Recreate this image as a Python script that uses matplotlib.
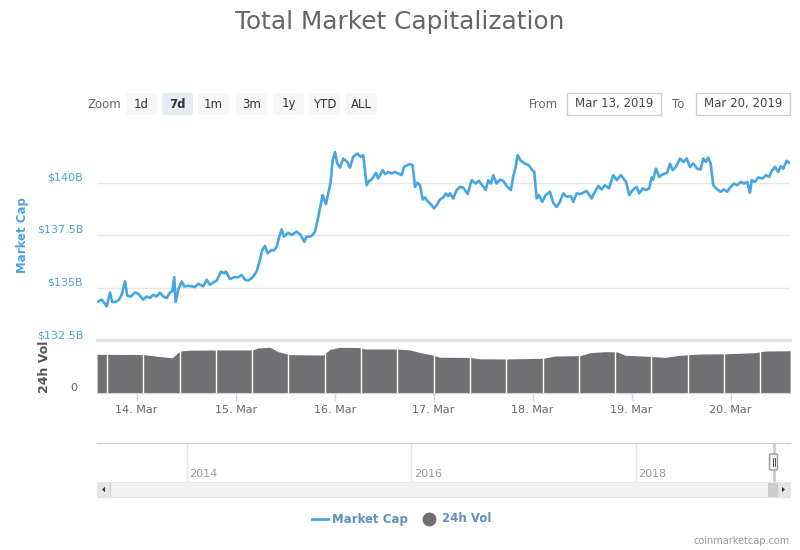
import numpy as np
import pandas as pd
import matplotlib
matplotlib.use("Agg")
import matplotlib.pyplot as plt
import matplotlib.dates as mdates
from matplotlib.patches import Rectangle, FancyBboxPatch, Polygon
from matplotlib.lines import Line2D

# hours since 2019-03-13 00:00 and total market cap in $B
cap_hours = [14.69, 15.52, 16.15, 16.73, 17.53, 18.09, 18.91, 19.71, 20.36, 21.16,
             21.72, 22.55, 23.59, 24.39, 25.60, 26.42, 27.22, 28.02, 28.85, 29.65,
             30.45, 31.27, 32.07, 32.63, 33.11, 33.45, 34.08, 34.91, 35.54, 36.51,
             37.48, 38.13, 38.93, 40.14, 40.97, 41.77, 42.57, 43.39, 44.43, 45.23,
             45.65, 46.62, 47.66, 48.63, 49.45, 50.25, 51.05, 51.88, 52.51, 53.09,
             53.89, 54.45, 55.10, 55.75, 56.72, 57.28, 57.94, 58.57, 59.15, 59.71,
             60.75, 61.57, 62.78, 63.75, 64.63, 65.21, 66.01, 66.66, 67.22, 67.87,
             68.43, 69.09, 69.47, 69.89, 70.44, 71.03, 71.51, 72.07, 72.63, 73.28,
             74.08, 75.05, 75.70, 76.50, 77.47, 78.30, 78.93, 79.75, 80.38, 80.96,
             82.01, 82.56, 83.63, 84.19, 84.99, 85.81, 86.61, 87.41, 88.24, 88.79,
             89.59, 90.25, 90.90, 91.46, 92.02, 92.67, 93.33, 93.88, 94.44, 95.27,
             96.07, 96.72, 97.52, 98.32, 98.97, 99.53, 99.94, 100.74, 101.57, 102.37,
             103.17, 104.23, 105.20, 106.17, 106.97, 107.77, 108.60, 109.23, 109.88, 110.44,
             111.26, 112.06, 112.86, 113.69, 114.73, 115.29, 115.87, 116.35, 117.15, 118.12,
             119.09, 119.89, 120.38, 120.96, 121.52, 122.32, 123.14, 124.18, 124.98, 125.81,
             126.61, 127.41, 128.23, 129.27, 129.83, 130.66, 131.46, 132.26, 133.08, 134.29,
             135.09, 135.89, 136.72, 137.52, 138.49, 139.53, 140.35, 141.39, 142.61, 143.41,
             144.23, 145.20, 145.83, 146.65, 147.45, 148.25, 148.84, 149.22, 149.88, 150.68,
             151.65, 152.62, 153.27, 153.93, 154.73, 155.70, 156.50, 157.32, 158.12, 158.92,
             159.89, 160.71, 161.34, 162.00, 162.56, 163.14, 163.77, 164.74, 165.56, 166.36,
             167.16, 167.99, 168.79, 169.59, 170.41, 171.21, 172.01, 172.67, 173.08, 173.88,
             174.68, 175.74, 176.54, 177.34, 177.92, 178.72, 179.53, 180.11, 180.74, 181.56,
             182.19]
cap_values = [134.34, 134.42, 134.26, 134.10, 134.76, 134.31, 134.31, 134.42, 134.65, 135.29,
              134.61, 134.57, 134.76, 134.70, 134.42, 134.57, 134.50, 134.65, 134.57, 134.76,
              134.57, 134.50, 134.76, 134.81, 135.49, 134.31, 134.89, 135.29, 135.05, 135.08,
              135.05, 135.02, 135.18, 135.05, 135.37, 135.13, 135.24, 135.33, 135.76, 135.68,
              135.76, 135.40, 135.49, 135.49, 135.60, 135.37, 135.33, 135.45, 135.60, 135.76,
              136.32, 136.79, 136.98, 136.63, 136.79, 136.76, 136.95, 137.42, 137.77, 137.42,
              137.61, 137.50, 137.66, 137.50, 137.18, 137.42, 137.42, 137.50, 137.66, 138.21,
              138.77, 139.40, 139.16, 138.97, 139.48, 140.03, 141.06, 141.45, 140.90, 140.71,
              141.14, 140.98, 140.71, 141.22, 141.38, 141.22, 141.30, 139.87, 140.08, 140.14,
              140.46, 140.19, 140.59, 140.40, 140.50, 140.43, 140.50, 140.43, 140.35, 140.74,
              140.82, 140.87, 140.82, 139.79, 139.98, 139.87, 139.19, 139.29, 139.13, 138.97,
              138.77, 138.92, 139.19, 139.29, 139.48, 139.35, 139.48, 139.24, 139.64, 139.79,
              139.76, 139.45, 140.11, 139.95, 140.08, 139.87, 139.64, 140.11, 139.95, 140.35,
              139.95, 140.14, 140.08, 139.83, 139.64, 140.30, 140.74, 141.30, 141.03, 140.90,
              140.82, 140.59, 140.50, 139.24, 139.40, 139.08, 139.40, 139.56, 139.03, 138.84,
              139.08, 139.48, 139.32, 139.35, 139.08, 139.48, 139.45, 139.51, 139.60, 139.24,
              139.56, 139.83, 139.67, 139.87, 139.72, 140.35, 140.11, 140.35, 140.03, 139.40,
              139.64, 139.79, 139.48, 139.72, 139.64, 139.72, 140.24, 140.14, 140.66, 140.27,
              140.40, 140.46, 140.90, 140.59, 140.74, 141.14, 140.98, 141.14, 140.74, 140.90,
              140.66, 140.62, 141.14, 140.98, 141.19, 140.90, 139.87, 139.67, 139.56, 139.67,
              139.56, 139.79, 139.95, 139.87, 140.03, 139.95, 140.03, 139.51, 140.11, 140.03,
              140.24, 140.19, 140.35, 140.27, 140.55, 140.74, 140.50, 140.77, 140.66, 141.03,
              140.93]

# hours since 2019-03-13 00:00 and 24h volume in $B
vol_hours = [14.4, 25.5, 29.6, 32.6, 34.5, 36.9, 43.5, 52.2, 53.4, 56.3, 58.3, 61.2,
             69.2, 70.9, 73.3, 78.1, 79.3, 87.1, 90.3, 92.7, 95.9, 97.5, 104.8, 107.2,
             113.8, 122.5, 125.4, 131.5, 133.9, 137.5, 140.5, 142.4, 148.5, 152.1, 155.7,
             160.6, 166.2, 170.3, 173.9, 176.3, 182.4]
vol_values = [29.2, 29.0, 27.5, 26.6, 31.7, 32.3, 32.5, 32.5, 34.0, 34.5, 31.2, 28.9,
              28.7, 33.0, 34.5, 34.3, 33.2, 33.2, 32.5, 30.5, 28.5, 27.0, 26.8, 25.8,
              25.7, 26.2, 27.9, 28.2, 30.4, 31.2, 31.0, 28.5, 27.6, 26.9, 28.5,
              29.4, 29.6, 30.0, 30.4, 31.7, 31.9]

cap_ticks = [132.5, 135, 137.5, 140]
nav_years = [2014, 2016, 2018]
zoom_buttons = ["1d", "7d", "1m", "3m", "1y", "YTD", "ALL"]
selected_button = "7d"
date_from = "Mar 13, 2019"
date_to = "Mar 20, 2019"

start = pd.Timestamp("2019-03-13")
cap_t = start + pd.to_timedelta(cap_hours, unit="h")
vol_t = start + pd.to_timedelta(vol_hours, unit="h")
t0 = start + pd.Timedelta(hours=14.38)
t1 = t0 + pd.Timedelta(days=7)

blue = "#47a6e2"
gray_vol = "#707072"
W, H = 800, 550


def box(l, t, r, b):
    return [l / W, 1 - b / H, (r - l) / W, (b - t) / H]


def fx(px):
    return px / W


def fy(py):
    return 1 - py / H


plt.rcParams["font.family"] = ["DejaVu Sans"]
fig = plt.figure(figsize=(8, 5.5), dpi=100)

fig.text(0.5, fy(22), "Total Market Capitalization", ha="center", va="center",
         fontsize=17.8, color="#666666")

# zoom buttons
fig.text(fx(88), fy(104), "Zoom", ha="left", va="center", fontsize=8.5, color="#666666")
btn_left = [126, 162, 198, 236, 273, 309, 346]
for name, left in zip(zoom_buttons, btn_left):
    sel = name == selected_button
    fig.add_artist(FancyBboxPatch((fx(left), fy(115)), 31 / W, 22 / H,
                                  boxstyle="round,pad=0,rounding_size=0.003",
                                  transform=fig.transFigure, lw=0,
                                  fc="#e6ebf5" if sel else "#f7f7f7"))
    fig.text(fx(left + 15.5), fy(104), name, ha="center", va="center", fontsize=8.5,
             color="#333333", fontweight="bold" if sel else "normal")

# date range inputs
fig.text(fx(529), fy(104), "From", ha="left", va="center", fontsize=8.5, color="#666666")
fig.text(fx(672), fy(104), "To", ha="left", va="center", fontsize=8.5, color="#666666")
for (l, r), txt in zip([(567, 661), (696, 790)], [date_from, date_to]):
    fig.add_artist(Rectangle((fx(l), fy(115)), (r - l) / W, 22 / H, transform=fig.transFigure,
                             fc="white", ec="#cccccc", lw=1))
    fig.text(fx((l + r) / 2), fy(104), txt, ha="center", va="center", fontsize=8.5,
             color="#444444")

# main market cap panel
ax = fig.add_axes(box(97, 130, 790, 340))
ax.plot(cap_t, cap_values, color=blue, lw=1.9)
ax.set_xlim(t0, t1)
ax.set_ylim(132.5, 142.5)
ax.set_yticks(cap_ticks)
ax.set_yticklabels(["${:g}B".format(v) for v in cap_ticks])
for lab in ax.get_yticklabels():
    lab.set_verticalalignment("bottom")
ax.tick_params(axis="y", length=0, pad=10, labelsize=8, labelcolor="#4aa3df")
ax.tick_params(axis="x", length=0, labelbottom=False)
ax.grid(axis="y", color="#e6e6e6", lw=1)
ax.set_axisbelow(True)
for s in ax.spines.values():
    s.set_visible(False)
ax.set_ylabel("Market Cap", color="#4aa3df", fontsize=8.5, fontweight="bold")
ax.yaxis.set_label_coords((29 - 97) / 693, 0.5)

# volume panel
axv = fig.add_axes(box(97, 340, 790, 393))
axv.fill_between(vol_t, vol_values, 0, color=gray_vol, lw=0)
sep = start + pd.to_timedelta(np.arange(16.8, 182.4, 8.8), unit="h")
for s in sep:
    axv.axvline(s, color="white", lw=1)
axv.set_xlim(t0, t1)
axv.set_ylim(0, 40)
axv.set_yticks([0])
axv.set_yticklabels(["0"])
for lab in axv.get_yticklabels():
    lab.set_verticalalignment("bottom")
axv.tick_params(axis="y", length=0, pad=14, labelsize=8, labelcolor="#666666")
axv.xaxis.set_major_locator(mdates.DayLocator())
axv.xaxis.set_major_formatter(mdates.DateFormatter("%d. %b"))
axv.tick_params(axis="x", length=6, width=1, color="#ccd6eb", pad=2.5,
                labelsize=8, labelcolor="#666666")
for k in ["left", "right"]:
    axv.spines[k].set_visible(False)
axv.spines["bottom"].set_color("#ccd6eb")
axv.spines["top"].set_color("#e0e0e0")
axv.spines["top"].set_linewidth(2)
axv.set_ylabel("24h Vol", color="#555555", fontsize=9, fontweight="bold")
axv.yaxis.set_label_coords((51 - 97) / 693, 0.5)

# navigator
axn = fig.add_axes(box(97, 443, 790, 482))
axn.set_xlim(2013.2, 2019.375)
axn.set_ylim(0, 1)
for yr in nav_years:
    axn.axvline(yr, color="#e6e6e6", lw=1)
    axn.annotate(str(yr), (yr, 0), xytext=(2, 2.5), textcoords="offset points",
                 fontsize=8, color="#999999", ha="left", va="bottom")
axn.set_xticks([])
axn.set_yticks([])
for k in ["left", "right", "bottom"]:
    axn.spines[k].set_visible(False)
axn.spines["top"].set_color("#cccccc")
axn.axvline(2019.23, color="#cccccc", lw=2)

# scrollbar
axs = fig.add_axes(box(97, 482, 790, 497))
axs.set_xlim(97, 790)
axs.set_ylim(0, 1)
axs.set_facecolor("#f2f2f2")
axs.add_patch(Rectangle((97, 0), 13, 1, fc="#e6e6e6", ec="#cccccc", lw=0.8))
axs.add_patch(Rectangle((777, 0), 13, 1, fc="#e6e6e6", ec="#cccccc", lw=0.8))
axs.add_patch(Rectangle((768, 0), 9, 1, fc="#cccccc", lw=0))
axs.add_patch(Polygon([[105, 0.32], [105, 0.68], [102, 0.5]], fc="#333333", lw=0))
axs.add_patch(Polygon([[782, 0.32], [782, 0.68], [785, 0.5]], fc="#333333", lw=0))
axs.set_xticks([])
axs.set_yticks([])
for s in axs.spines.values():
    s.set_color("#e6e6e6")

# navigator handle
fig.add_artist(FancyBboxPatch((fx(769.5), fy(470)), 8 / W, 16 / H,
                              boxstyle="round,pad=0,rounding_size=0.002",
                              transform=fig.transFigure, fc="#f2f2f2", ec="#999999", lw=1))
for hx in [772.5, 774.5]:
    fig.add_artist(Line2D([fx(hx), fx(hx)], [fy(466), fy(458)], color="#333333", lw=0.6))

# legend
fig.add_artist(Line2D([fx(312), fx(328)], [fy(519), fy(519)], color=blue, lw=2))
fig.text(fx(332), fy(519), "Market Cap", ha="left", va="center", fontsize=8.5,
         fontweight="bold", color="#5f8fc5")
fig.add_artist(Line2D([fx(428.5)], [fy(519)], marker="o", ms=9, color=gray_vol, lw=0))
fig.text(fx(442), fy(519), "24h Vol", ha="left", va="center", fontsize=8.5,
         fontweight="bold", color="#5f8fc5")

fig.text(fx(790), fy(541), "coinmarketcap.com", ha="right", va="center", fontsize=7,
         color="#999999")

fig.savefig("out.png", dpi=100)
